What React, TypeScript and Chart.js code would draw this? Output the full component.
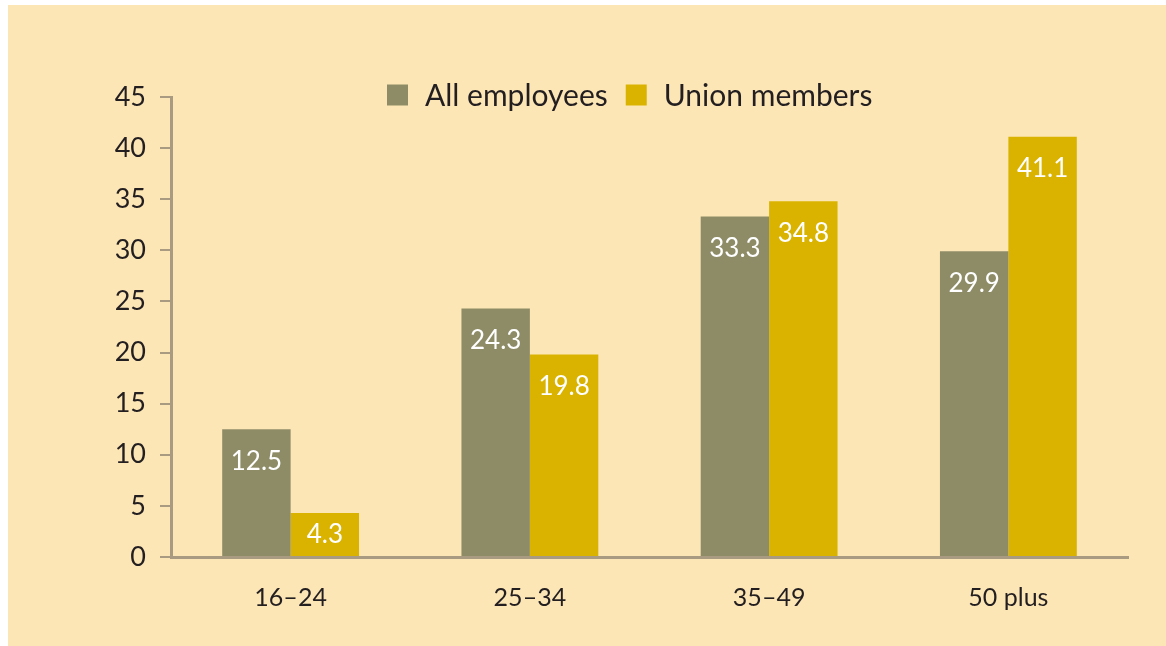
import React, { useEffect, useRef } from "react";
import { Chart, registerables } from "chart.js";

Chart.register(...registerables);

const categories = ["16–24", "25–34", "35–49", "50 plus"];
const seriesNames = ["All employees", "Union members"];
const allEmployees = [12.5, 24.3, 33.3, 29.9];
const unionMembers = [4.3, 19.8, 34.8, 41.1];
const yMin = 0;
const yMax = 45;
const yStep = 5;

const BG = "#FDE6B6";
const GRAY = "#8E8C67";
const GOLD = "#D9B300";
const AXIS = "#A99B82";
const TEXT = "#231F20";
const FONT = "Lato, 'Open Sans', sans-serif";

const valueLabels = {
  id: "valueLabels",
  afterDatasetsDraw(chart: any) {
    const ctx = chart.ctx;
    ctx.save();
    ctx.fillStyle = "#FFFFFF";
    ctx.font = `26px ${FONT}`;
    ctx.textAlign = "center";
    ctx.textBaseline = "middle";
    chart.data.datasets.forEach((ds: any, di: number) => {
      const meta = chart.getDatasetMeta(di);
      meta.data.forEach((el: any, i: number) => {
        const { x, y, base } = el.getProps(["x", "y", "base"], true);
        const cy = Math.min(y + 32, (y + base) / 2);
        ctx.fillText(String(ds.data[i]), x, cy);
      });
    });
    ctx.restore();
  },
};

const topLegend = {
  id: "topLegend",
  afterDraw(chart: any) {
    const ctx = chart.ctx;
    ctx.save();
    ctx.font = `30px ${FONT}`;
    ctx.textBaseline = "middle";
    ctx.textAlign = "left";
    let x = 379;
    const cy = 90;
    const box = 21;
    chart.data.datasets.forEach((ds: any) => {
      ctx.fillStyle = ds.backgroundColor;
      ctx.fillRect(x, cy - box / 2, box, box);
      x += box + 17;
      ctx.fillStyle = TEXT;
      ctx.fillText(ds.label, x, cy + 1);
      x += ctx.measureText(ds.label).width + 18;
    });
    ctx.restore();
  },
};

export default function App() {
  const ref = useRef<HTMLCanvasElement | null>(null);

  useEffect(() => {
    document.body.style.margin = "0";
    const canvas = ref.current;
    if (!canvas) return;
    const chart = new Chart(canvas, {
      type: "bar",
      data: {
        labels: categories,
        datasets: [
          {
            label: seriesNames[0],
            data: allEmployees,
            backgroundColor: GRAY,
            categoryPercentage: 0.572,
            barPercentage: 1,
          },
          {
            label: seriesNames[1],
            data: unionMembers,
            backgroundColor: GOLD,
            categoryPercentage: 0.572,
            barPercentage: 1,
          },
        ],
      },
      options: {
        animation: false,
        responsive: true,
        maintainAspectRatio: false,
        layout: { padding: { top: 92, right: 38, left: 0, bottom: 0 } },
        plugins: {
          legend: { display: false },
          tooltip: { enabled: false },
          title: { display: false },
        },
        scales: {
          x: {
            grid: { display: false, drawTicks: false },
            border: { display: true, color: AXIS, width: 3 },
            ticks: {
              color: TEXT,
              font: { family: FONT, size: 25 },
              padding: 26,
            },
            afterFit: (s: any) => {
              s.height = 89;
            },
          },
          y: {
            min: yMin,
            max: yMax,
            ticks: {
              stepSize: yStep,
              color: TEXT,
              font: { family: FONT, size: 27 },
              padding: 14,
            },
            grid: {
              display: true,
              drawOnChartArea: false,
              drawTicks: true,
              tickLength: 11,
              color: AXIS,
              lineWidth: 2,
            },
            border: { display: true, color: AXIS, width: 3 },
            afterFit: (s: any) => {
              s.width = 163;
            },
          },
        },
      },
      plugins: [valueLabels, topLegend],
    });
    return () => chart.destroy();
  }, []);

  return (
    <div
      style={{
        position: "absolute",
        left: 8,
        top: 5,
        width: 1158,
        height: 641,
        background: BG,
      }}
    >
      <canvas ref={ref} />
    </div>
  );
}
